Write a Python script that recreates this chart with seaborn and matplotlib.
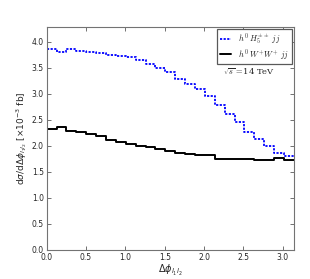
import numpy as np
import pandas as pd
import matplotlib
matplotlib.use("Agg")
import matplotlib.pyplot as plt
from matplotlib.font_manager import FontProperties
import seaborn as sns

# 25 bins over [0, pi], values in units of 1e-3 fb
n_bins = 25
h5_vals = [3.86, 3.81, 3.85, 3.83, 3.80, 3.78, 3.75, 3.72, 3.70, 3.64,
           3.57, 3.49, 3.42, 3.29, 3.19, 3.09, 2.95, 2.775, 2.62, 2.455,
           2.26, 2.14, 1.99, 1.86, 1.80]
ww_vals = [2.32, 2.36, 2.29, 2.26, 2.22, 2.18, 2.115, 2.08, 2.04, 2.00,
           1.98, 1.94, 1.90, 1.87, 1.845, 1.83, 1.815, 1.745, 1.745, 1.745,
           1.745, 1.725, 1.73, 1.76, 1.725]
x_ticks = [0.0, 0.5, 1.0, 1.5, 2.0, 2.5, 3.0]
y_ticks = [0.0, 0.5, 1.0, 1.5, 2.0, 2.5, 3.0, 3.5, 4.0]

edges = np.linspace(0, np.pi, n_bins + 1)


def step_frame(vals):
    # repeat last value so steps-post reaches the right edge
    return pd.DataFrame({'x': edges, 'y': list(vals) + [vals[-1]]})


sns.set_style("ticks")
plt.rcParams['font.family'] = ['DejaVu Sans']
plt.rcParams['mathtext.fontset'] = 'dejavusans'

fig = plt.figure(figsize=(3.1, 2.79), dpi=100)
ax = fig.add_axes([0.1506, 0.104, 0.7974, 0.799])

sns.lineplot(data=step_frame(h5_vals), x='x', y='y', ax=ax, color='b',
             lw=1.3, ls=(0, (1.2, 0.8)), drawstyle='steps-post', estimator=None,
             label=r'$h^0\ H_5^{\pm\pm}\ jj$')
sns.lineplot(data=step_frame(ww_vals), x='x', y='y', ax=ax, color='k',
             lw=1.4, drawstyle='steps-post', estimator=None,
             label=r'$h^0\ W^{+}W^{+}\ jj$')

ax.set_xlim(0, np.pi)
ax.set_ylim(0, 4.28)
ax.set_xticks(x_ticks)
ax.set_yticks(y_ticks)
ax.set_xticklabels(['%.1f' % t for t in x_ticks])
ax.set_yticklabels(['%.1f' % t for t in y_ticks])
ax.tick_params(direction='in', top=True, right=True, length=3, width=0.6,
               labelsize=5.5, colors='0.35', labelcolor='0.15', pad=2)
for s in ax.spines.values():
    s.set_color('0.45')
    s.set_linewidth(0.8)

ax.set_xlabel(r'$\Delta\phi_{l_1 l_2}$', fontsize=7, labelpad=1, color='0.15')
ax.set_ylabel(r'$\mathrm{d}\sigma/\mathrm{d}\Delta\phi_{l_1 l_2}\ [\times 10^{-3}\ \mathrm{fb}]$',
              fontsize=6.5, labelpad=2, color='0.15')

leg_font = FontProperties(family='serif', size=6.0, math_fontfamily='cm')
leg = ax.legend(loc='upper right', prop=leg_font, fancybox=False,
                handlelength=1.3, handletextpad=0.9, borderpad=0.3,
                labelspacing=0.05, borderaxespad=0.25, framealpha=1)
leg.get_frame().set_edgecolor('0.35')
leg.get_frame().set_linewidth(0.9)

ax.text(0.82, 0.80, r'$\sqrt{s}=$14 TeV', transform=ax.transAxes,
        ha='center', va='center',
        fontproperties=FontProperties(family='serif', size=6.0, math_fontfamily='cm'))

fig.savefig('out.png', dpi=100)
